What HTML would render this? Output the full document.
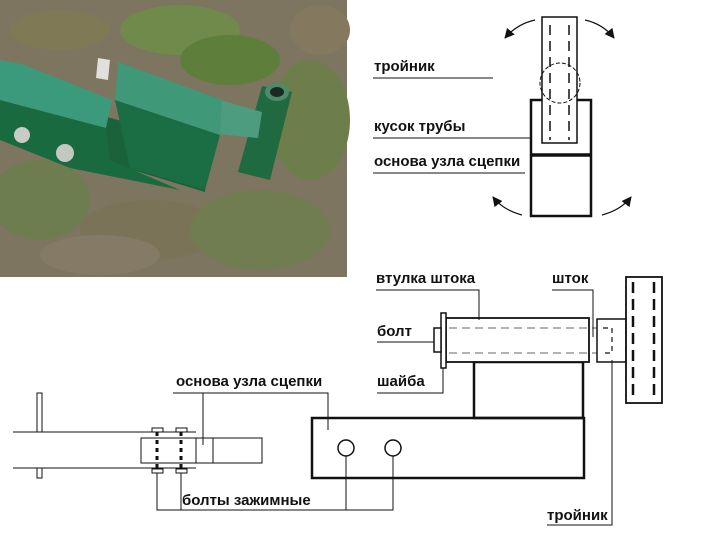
<!DOCTYPE html>
<html><head><meta charset="utf-8"><style>
html,body{margin:0;padding:0;background:#fff;}
svg{display:block;}
text{font-family:"Liberation Sans",sans-serif;font-weight:bold;font-size:15px;fill:#111;}
</style></head><body>
<svg width="702" height="546" viewBox="0 0 702 546" xmlns="http://www.w3.org/2000/svg">
<defs>
<marker id="ah" viewBox="0 0 10 10" refX="9" refY="5" markerWidth="10" markerHeight="10" orient="auto" markerUnits="userSpaceOnUse"><path d="M0,0 L10,5 L0,10 z" fill="#111"/></marker>
</defs>
<g>
<rect x="0" y="0" width="347" height="277" fill="#7d7560"/>
<ellipse cx="180" cy="30" rx="60" ry="25" fill="#6f8a4a"/>
<ellipse cx="230" cy="60" rx="50" ry="25" fill="#5e7f3c"/>
<ellipse cx="60" cy="30" rx="50" ry="20" fill="#7f7a55"/>
<ellipse cx="310" cy="120" rx="40" ry="60" fill="#6d7e4a"/>
<ellipse cx="40" cy="200" rx="50" ry="40" fill="#6e7d4f"/>
<ellipse cx="150" cy="230" rx="70" ry="30" fill="#7a7358"/>
<ellipse cx="260" cy="230" rx="70" ry="40" fill="#6f7d50"/>
<ellipse cx="320" cy="30" rx="30" ry="25" fill="#84795e"/>
<ellipse cx="100" cy="255" rx="60" ry="20" fill="#847a65"/>
<polygon points="262,86 292,92 270,180 238,172" fill="#1f6a40"/>
<ellipse cx="277" cy="92" rx="12" ry="9" fill="#4e8b6a"/>
<ellipse cx="277" cy="92" rx="7" ry="5" fill="#1a2a22"/>
<polygon points="100,115 208,145 205,192 100,160" fill="#19623a"/>
<polygon points="0,60 22,64 112,100 106,128 0,100" fill="#3c9a7c"/>
<polygon points="0,100 106,128 110,160 180,190 70,168 0,140" fill="#1a6a40"/>
<polygon points="220,100 262,112 258,138 218,134" fill="#4d9c80"/>
<polygon points="118,62 222,100 220,135 115,100" fill="#3f9878"/>
<polygon points="115,100 220,135 205,190 130,168" fill="#1b6d43"/>
<circle cx="22" cy="135" r="8" fill="#c9cbc4"/>
<circle cx="65" cy="153" r="9" fill="#c5c8c2"/>
<polygon points="98,58 110,60 108,80 96,78" fill="#e0e0dc"/>
</g>
<g fill="none" stroke="#111">
<rect x="531" y="100" width="60" height="116" stroke-width="2.5"/>
<line x1="531" y1="155" x2="591" y2="155" stroke-width="3.5"/>
<rect x="542" y="17" width="35" height="126" stroke-width="1.5" fill="#fff"/>
<line x1="550" y1="25" x2="550" y2="140" stroke-width="1.5" stroke-dasharray="10,6"/>
<line x1="569" y1="25" x2="569" y2="140" stroke-width="1.5" stroke-dasharray="10,6"/>
<circle cx="560" cy="83" r="20" stroke-width="1" stroke-dasharray="4,2"/>
<line x1="373" y1="78" x2="493" y2="78" stroke-width="1"/>
<line x1="373" y1="138" x2="531" y2="138" stroke-width="1"/>
<line x1="373" y1="173" x2="525" y2="173" stroke-width="1"/>
<path d="M535,20 Q517,24 505,38" stroke-width="1.2" marker-end="url(#ah)"/>
<path d="M585,20 Q603,24 614,38" stroke-width="1.2" marker-end="url(#ah)"/>
<path d="M522,215 Q503,210 493,197" stroke-width="1.2" marker-end="url(#ah)"/>
<path d="M602,215 Q621,210 631,197" stroke-width="1.2" marker-end="url(#ah)"/>
</g>
<text x="374" y="71">тройник</text>
<text x="374" y="131">кусок трубы</text>
<text x="374" y="166">основа узла сцепки</text>
<g fill="none" stroke="#111">
<rect x="312" y="418" width="272" height="60" stroke-width="2.5"/>
<rect x="474" y="362" width="109" height="56" stroke-width="2.5"/>
<rect x="446" y="318" width="143" height="44" stroke-width="1.8" fill="#fff"/>
<line x1="449" y1="328" x2="612" y2="328" stroke-width="1" stroke-dasharray="8,5" stroke="#666"/>
<line x1="449" y1="353" x2="612" y2="353" stroke-width="1" stroke-dasharray="8,5" stroke="#666"/>
<rect x="441" y="313" width="5" height="55" stroke-width="1.5" fill="#fff"/>
<rect x="434" y="328" width="7" height="24" stroke-width="1.5" fill="#fff"/>
<rect x="597" y="319" width="29" height="43" stroke-width="1.5" fill="#fff"/>
<path d="M603,328 H612 V353 H603" stroke-width="1.2" stroke-dasharray="5,4"/>
<rect x="626" y="277" width="36" height="126" stroke-width="1.8" fill="#fff"/>
<line x1="633" y1="282" x2="633" y2="400" stroke-width="2.5" stroke-dasharray="11,6"/>
<line x1="654" y1="282" x2="654" y2="400" stroke-width="2.5" stroke-dasharray="11,6"/>
<circle cx="346" cy="448" r="8" stroke-width="1.5"/>
<circle cx="393" cy="448" r="8" stroke-width="1.5"/>
<polyline points="376,290 479,290 479,320" stroke-width="1"/>
<polyline points="552,290 593,290 593,337" stroke-width="1"/>
<polyline points="377,342 434,342" stroke-width="1"/>
<polyline points="377,393 443,393 443,368" stroke-width="1"/>
<polyline points="547,525 612,525 612,360" stroke-width="1"/>
<polyline points="173,393 328,393 328,430" stroke-width="1"/>
</g>
<text x="376" y="283">втулка штока</text>
<text x="552" y="283">шток</text>
<text x="377" y="336">болт</text>
<text x="377" y="386">шайба</text>
<text x="547" y="520">тройник</text>
<text x="176" y="386">основа узла сцепки</text>
<text x="182" y="505">болты зажимные</text>
<g fill="none" stroke="#111" stroke-width="1">
<line x1="13" y1="432" x2="196" y2="432"/>
<line x1="13" y1="468" x2="196" y2="468"/>
<rect x="37" y="393" width="5" height="39" fill="#fff"/>
<rect x="37" y="468" width="5" height="10" fill="#fff"/>
<rect x="141" y="438" width="55" height="25" fill="#fff"/>
<rect x="196" y="438" width="66" height="25" fill="#fff"/>
<line x1="213" y1="438" x2="213" y2="463"/>
<line x1="203" y1="393" x2="203" y2="445"/>
<rect x="152" y="428" width="11" height="4" fill="#fff"/>
<rect x="176" y="428" width="11" height="4" fill="#fff"/>
<rect x="152" y="469" width="11" height="4" fill="#fff"/>
<rect x="176" y="469" width="11" height="4" fill="#fff"/>
<line x1="157" y1="432" x2="157" y2="469" stroke-width="3" stroke-dasharray="4,4"/>
<line x1="181" y1="432" x2="181" y2="469" stroke-width="3" stroke-dasharray="4,4"/>
<polyline points="157,473 157,510 346,510 346,456"/>
<line x1="181" y1="473" x2="181" y2="510"/>
<polyline points="346,510 393,510 393,456"/>
</g>
</svg>
</body></html>
